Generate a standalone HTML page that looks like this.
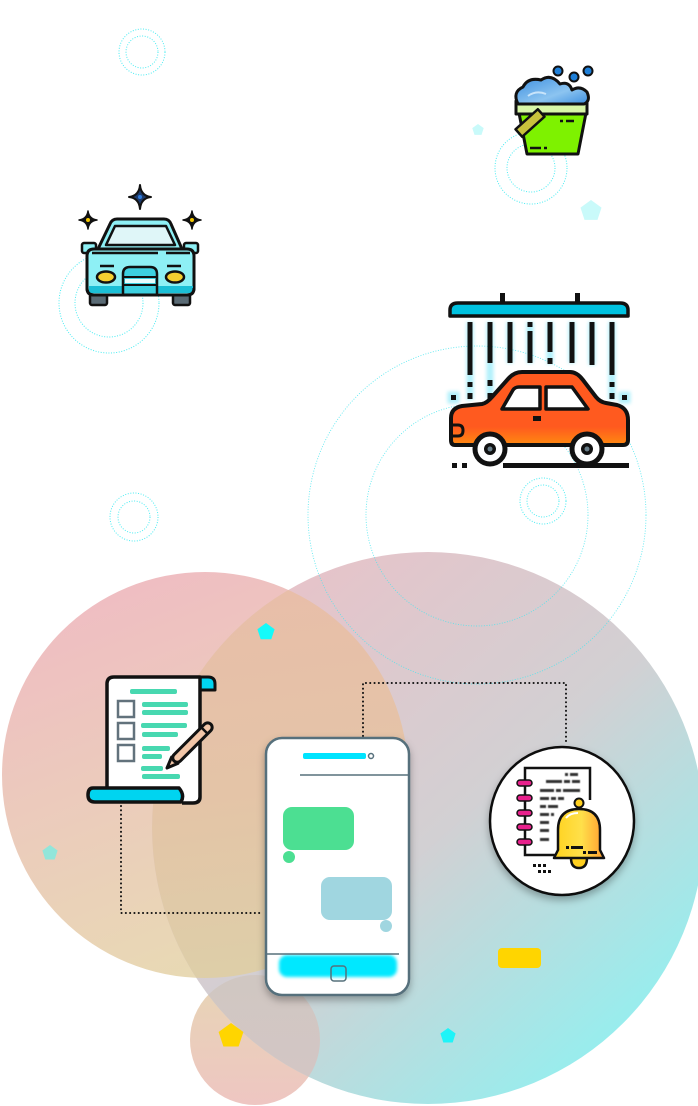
<!DOCTYPE html>
<html>
<head>
<meta charset="utf-8">
<style>
  html,body{margin:0;padding:0;background:#fff;}
  body{width:698px;height:1106px;overflow:hidden;font-family:"Liberation Sans",sans-serif;}
  svg{display:block;}
</style>
</head>
<body>
<svg width="698" height="1106" viewBox="0 0 698 1106" xmlns="http://www.w3.org/2000/svg">
  <defs>
    <linearGradient id="gL" gradientUnits="userSpaceOnUse" x1="100" y1="600" x2="250" y2="980">
      <stop offset="0" stop-color="#efbec2"/>
      <stop offset="0.5" stop-color="#ebcdbb"/>
      <stop offset="1" stop-color="#e8dbb3"/>
    </linearGradient>
    <linearGradient id="gR" gradientUnits="userSpaceOnUse" x1="250" y1="600" x2="650" y2="1050">
      <stop offset="0" stop-color="#e7c3c9"/>
      <stop offset="0.5" stop-color="#d2d0d3"/>
      <stop offset="1" stop-color="#90f1f1"/>
    </linearGradient>
    <linearGradient id="gO" gradientUnits="userSpaceOnUse" x1="250" y1="590" x2="300" y2="980">
      <stop offset="0" stop-color="#e8bea9"/>
      <stop offset="0.5" stop-color="#e4c4a7"/>
      <stop offset="1" stop-color="#ddcfa8"/>
    </linearGradient>
    <linearGradient id="gS" gradientUnits="userSpaceOnUse" x1="255" y1="975" x2="255" y2="1105">
      <stop offset="0" stop-color="#e7d5b5"/>
      <stop offset="1" stop-color="#eec6c2"/>
    </linearGradient>
    <linearGradient id="gSO" gradientUnits="userSpaceOnUse" x1="255" y1="975" x2="255" y2="1105">
      <stop offset="0" stop-color="#d0c7c2"/>
      <stop offset="1" stop-color="#d4c6c5"/>
    </linearGradient>
    <linearGradient id="foam" x1="0" y1="0" x2="1" y2="1">
      <stop offset="0" stop-color="#3d8fe0"/>
      <stop offset="0.6" stop-color="#8cc4f0"/>
      <stop offset="1" stop-color="#3d8fe0"/>
    </linearGradient>
    <linearGradient id="bell" x1="0" y1="0" x2="1" y2="0">
      <stop offset="0" stop-color="#ffd21e"/>
      <stop offset="0.55" stop-color="#ffe04a"/>
      <stop offset="1" stop-color="#ff9c30"/>
    </linearGradient>
    <linearGradient id="carBody" x1="0" y1="0" x2="0" y2="1">
      <stop offset="0" stop-color="#ff5a1f"/>
      <stop offset="0.75" stop-color="#ff5a1f"/>
      <stop offset="1" stop-color="#ff8a10"/>
    </linearGradient>
    <clipPath id="cR"><circle cx="428" cy="828" r="276"/></clipPath>
    <filter id="glow" x="-50%" y="-50%" width="200%" height="200%">
      <feGaussianBlur stdDeviation="1.8"/>
    </filter>
    <filter id="soft" x="-10%" y="-10%" width="120%" height="140%">
      <feGaussianBlur stdDeviation="1.5"/>
    </filter>
    <filter id="shadow" x="-20%" y="-20%" width="140%" height="140%">
      <feDropShadow dx="0" dy="4" stdDeviation="4" flood-color="#000" flood-opacity="0.3"/>
    </filter>
    <filter id="blurText"><feGaussianBlur stdDeviation="0.6"/></filter>
  </defs>

  <!-- background circles -->
  <circle cx="205" cy="775" r="203" fill="url(#gL)"/>
  <circle cx="255" cy="1040" r="65" fill="url(#gS)"/>
  <circle cx="428" cy="828" r="276" fill="url(#gR)"/>
  <g clip-path="url(#cR)">
    <circle cx="205" cy="775" r="203" fill="url(#gO)"/>
    <circle cx="255" cy="1040" r="65" fill="url(#gSO)"/>
  </g>

  <!-- dotted circles -->
  <g fill="none" stroke="#49ecf2" stroke-width="1" stroke-dasharray="1 1.6">
    <circle cx="142" cy="52" r="23"/>
    <circle cx="142" cy="52" r="16"/>
    <circle cx="109" cy="303" r="50"/>
    <circle cx="109" cy="303" r="34"/>
    <circle cx="134" cy="517" r="24"/>
    <circle cx="134" cy="517" r="16"/>
    <circle cx="531" cy="168" r="36"/>
    <circle cx="531" cy="168" r="24"/>
    <circle cx="543" cy="501" r="23"/>
    <circle cx="543" cy="501" r="16"/>
  </g>
  <g fill="none" stroke="#49e6ee" stroke-width="0.9" stroke-dasharray="1 1.6" opacity="0.85">
    <circle cx="477" cy="515" r="169"/>
    <circle cx="477" cy="515" r="111"/>
  </g>

  <!-- pentagons -->
  <polygon points="478,124 483.7,128.1 481.5,134.9 474.5,134.9 472.3,128.1" fill="#c9fafa"/>
  <polygon points="591,200 601.5,207.6 597.5,219.9 584.5,219.9 580.5,207.6" fill="#c9fafa"/>
  <polygon points="266,623 274.6,629.2 271.3,639.3 260.7,639.3 257.4,629.2" fill="#14fafa"/>
  <polygon points="50,845 57.6,850.5 54.7,859.5 45.3,859.5 42.4,850.5" fill="#92e6da"/>
  <polygon points="231,1023 243.4,1032 238.6,1046.5 223.4,1046.5 218.6,1032" fill="#ffd500"/>
  <polygon points="448,1028 455.6,1033.5 452.7,1042.5 443.3,1042.5 440.4,1033.5" fill="#1ef4f8"/>
  <rect x="498" y="948" width="43" height="20" rx="4" fill="#ffd500"/>

  <!-- connectors -->
  <g fill="none" stroke="#111" stroke-width="2" stroke-dasharray="0.1 4.2" stroke-linecap="round">
    <polyline points="121,806 121,913 262,913"/>
    <polyline points="363,736 363,683 566,683 566,745"/>
  </g>

  <!-- sparkling car -->
  <g stroke="#111" stroke-linejoin="round">
    <path d="M140,185 Q141,196 151,197 Q141,198 140,209 Q139,198 129,197 Q139,196 140,185Z" fill="#1c3a6a" stroke-width="2"/>
    <circle cx="140" cy="197" r="2" fill="#2e7bdc" stroke="none"/>
    <path d="M88,211 Q89,219 97,220 Q89,221 88,229 Q87,221 79,220 Q87,219 88,211Z" fill="#111" stroke-width="1.5"/>
    <circle cx="88" cy="220" r="2" fill="#f5c800" stroke="none"/>
    <path d="M192,211 Q193,219 201,220 Q193,221 192,229 Q191,221 183,220 Q191,219 192,211Z" fill="#111" stroke-width="1.5"/>
    <circle cx="192" cy="220" r="2" fill="#f5c800" stroke="none"/>

    <rect x="82" y="243" width="14" height="10" rx="2" fill="#8ef0f5" stroke-width="2.5"/>
    <rect x="184" y="243" width="14" height="10" rx="2" fill="#8ef0f5" stroke-width="2.5"/>
    <path d="M98,249 L110,224 Q112,219 117,219 L164,219 Q169,219 171,224 L182,249Z" fill="#8ef0f5" stroke-width="3"/>
    <path d="M106,245 L115,226 L166,226 L175,245Z" fill="#dff6f8" stroke-width="2.5"/>
    <rect x="90" y="294" width="17" height="11" rx="2" fill="#5a6b75" stroke-width="2.5"/>
    <rect x="173" y="294" width="17" height="11" rx="2" fill="#5a6b75" stroke-width="2.5"/>
    <path d="M87,256 Q87,249 94,249 L187,249 Q194,249 194,256 L194,288 Q194,295 187,295 L94,295 Q87,295 87,288Z" fill="#8ef0f5" stroke-width="3"/>
    <rect x="89" y="286" width="104" height="7" fill="#1bbfd6" stroke="none"/>
    <line x1="92" y1="253" x2="158" y2="253" stroke-width="2.5"/>
    <line x1="166" y1="253" x2="190" y2="253" stroke-width="2.5"/>
    <line x1="100" y1="266" x2="114" y2="266" stroke-width="2.5"/>
    <line x1="167" y1="266" x2="181" y2="266" stroke-width="2.5"/>
    <ellipse cx="106" cy="277" rx="9" ry="5.5" fill="#f5cf30" stroke-width="2.5"/>
    <ellipse cx="175" cy="277" rx="9" ry="5.5" fill="#f5cf30" stroke-width="2.5"/>
    <path d="M123,295 L123,274 Q123,267 130,267 L150,267 Q157,267 157,274 L157,295" fill="#3dd0e0" stroke-width="2.5"/>
    <rect x="125" y="279" width="30" height="4" fill="#e8fbfc" stroke="none"/>
    <line x1="124" y1="277" x2="156" y2="277" stroke-width="2"/>
    <line x1="124" y1="285" x2="156" y2="285" stroke-width="2"/>
    <path d="M87,288 Q87,295 94,295 L187,295 Q194,295 194,288" fill="none" stroke-width="3"/>
  </g>

  <!-- bucket -->
  <g stroke="#111" stroke-linejoin="round">
    <path d="M519,113 L586,113 L578,154 L527,154Z" fill="#7ef200" stroke-width="3"/>
    <rect x="516" y="101" width="71" height="13" fill="#d8f7a8" stroke-width="3"/>
    <path d="M518,104 Q512,92 523,87 Q528,77 541,80 Q551,73 560,84 Q569,81 572,90 Q580,85 587,92 Q591,101 584,104 Z" fill="url(#foam)" stroke-width="3"/>
    <path d="M528,96 Q536,90 546,94" fill="none" stroke="#c8e4fa" stroke-width="2"/>
    <circle cx="558" cy="71" r="4.5" fill="#1e7fd8" stroke-width="2"/>
    <circle cx="574" cy="77" r="4.5" fill="#1e7fd8" stroke-width="2"/>
    <circle cx="588" cy="71" r="4.5" fill="#1e7fd8" stroke-width="2"/>
    <rect x="-15" y="-5" width="30" height="10" transform="translate(530,123) rotate(-42)" fill="#c8c23c" stroke-width="2.5"/>
    <line x1="560" y1="121" x2="563" y2="121" stroke-width="2.5"/>
    <line x1="566" y1="121" x2="574" y2="121" stroke-width="2.5"/>
    <line x1="530" y1="148" x2="541" y2="148" stroke-width="2.5"/>
    <line x1="544" y1="148" x2="547" y2="148" stroke-width="2.5"/>
  </g>

  <!-- car wash -->
  <g>
    <g stroke="#7fe6f8" stroke-width="7" filter="url(#glow)" opacity="0.6">
      <line x1="470" y1="322" x2="470" y2="400"/>
      <line x1="490" y1="322" x2="490" y2="398"/>
      <line x1="510" y1="322" x2="510" y2="363"/>
      <line x1="530" y1="322" x2="530" y2="363"/>
      <line x1="550" y1="322" x2="550" y2="364"/>
      <line x1="572" y1="322" x2="572" y2="363"/>
      <line x1="592" y1="322" x2="592" y2="365"/>
      <line x1="612" y1="322" x2="612" y2="400"/>
      <rect x="451" y="395" width="5" height="5"/>
      <rect x="622" y="395" width="5" height="5"/>
    </g>
    <g fill="#111">
      <rect x="500" y="293" width="5" height="11"/>
      <rect x="575" y="293" width="5" height="11"/>
      <rect x="467.5" y="322" width="5" height="53"/>
      <rect x="467.5" y="382" width="5" height="5"/>
      <rect x="467.5" y="393" width="5" height="6"/>
      <rect x="487.5" y="322" width="5" height="41"/>
      <rect x="487.5" y="380" width="5" height="6"/>
      <rect x="487.5" y="393" width="5" height="6"/>
      <rect x="507.5" y="322" width="5" height="41"/>
      <rect x="527.5" y="322" width="5" height="5"/>
      <rect x="527.5" y="331" width="5" height="32"/>
      <rect x="547.5" y="322" width="5" height="30"/>
      <rect x="547.5" y="358" width="5" height="6"/>
      <rect x="569.5" y="322" width="5" height="41"/>
      <rect x="589.5" y="322" width="5" height="43"/>
      <rect x="609.5" y="322" width="5" height="53"/>
      <rect x="609.5" y="382" width="5" height="5"/>
      <rect x="609.5" y="393" width="5" height="6"/>
      <rect x="451" y="395" width="5" height="5"/>
      <rect x="622" y="395" width="5" height="5"/>
    </g>
    <path d="M450,316 L450,310 Q450,303 458,303 L620,303 Q628,303 628,310 L628,316Z" fill="#00c2e0" stroke="#111" stroke-width="3.5" stroke-linejoin="round"/>
    <path d="M455,445 Q451,445 451,440 L451,418 Q451,408 462,406 L482,404 Q487,403 492,397 L508,379 Q514,372 522,372 L570,372 Q577,372 583,380 L596,397 Q600,402 606,403 L617,405 Q628,408 628,420 L628,440 Q628,445 623,445Z" fill="url(#carBody)" stroke="#111" stroke-width="4" stroke-linejoin="round"/>
    <path d="M451,425 L458,425 Q463,425 463,430.5 Q463,436 458,436 L451,436" fill="none" stroke="#111" stroke-width="3"/>
    <path d="M502,409 L513,390 Q515,387 519,387 L540,387 L540,409Z" fill="#fff" stroke="#111" stroke-width="3.5" stroke-linejoin="round"/>
    <path d="M546,387 L572,387 L588,409 L546,409Z" fill="#fff" stroke="#111" stroke-width="3.5" stroke-linejoin="round"/>
    <rect x="533" y="416" width="8" height="5" fill="#111"/>
    <rect x="503" y="463" width="126" height="5" fill="#111"/>
    <rect x="452" y="463" width="5" height="5" fill="#111"/>
    <rect x="462" y="463" width="5" height="5" fill="#111"/>
    <circle cx="490" cy="449" r="15" fill="#fff" stroke="#111" stroke-width="5"/>
    <circle cx="490" cy="449" r="6" fill="#111"/>
    <circle cx="490" cy="449" r="2.5" fill="#6a7f8a"/>
    <circle cx="587" cy="449" r="15" fill="#fff" stroke="#111" stroke-width="5"/>
    <circle cx="587" cy="449" r="6" fill="#111"/>
    <circle cx="587" cy="449" r="2.5" fill="#6a7f8a"/>
  </g>

  <!-- document -->
  <g stroke="#111" stroke-linejoin="round">
    <path d="M200,677 L208,677 Q215,677 215,684 L215,690 L200,690Z" fill="#00d4f0" stroke-width="3"/>
    <path d="M107,797 L107,684 Q107,677 114,677 L200,677 L200,797 Q200,803 193,803 L182,803" fill="#fff" stroke-width="3.5"/>
    <path d="M93,788 L179,788 Q185,795 181,802 L95,802 Q88,802 88,795 Q88,788 93,788Z" fill="#00d4f0" stroke-width="3.5"/>
  </g>
  <g fill="#48d8b0">
    <rect x="130" y="689" width="47" height="5" rx="2"/>
    <rect x="142" y="702" width="46" height="5" rx="2"/>
    <rect x="142" y="710" width="46" height="5" rx="2"/>
    <rect x="141" y="723" width="46" height="5" rx="2"/>
    <rect x="142" y="732" width="36" height="5" rx="2"/>
    <rect x="142" y="746" width="28" height="5" rx="2"/>
    <rect x="142" y="754" width="20" height="5" rx="2"/>
    <rect x="141" y="766" width="22" height="5" rx="2"/>
    <rect x="142" y="774" width="38" height="5" rx="2"/>
  </g>
  <g fill="#fff" stroke="#62727c" stroke-width="2.5">
    <rect x="118" y="701" width="16" height="16"/>
    <rect x="118" y="723" width="16" height="16"/>
    <rect x="118" y="745" width="16" height="16"/>
  </g>
  <g transform="translate(167,768) rotate(-45)" stroke="#111" stroke-width="3" stroke-linejoin="round">
    <path d="M0,0 L11,-4.5 L11,4.5Z" fill="#f2c6a8"/>
    <rect x="10" y="-4.5" width="52" height="9" rx="4.5" fill="#f2c6a8"/>
    <line x1="53" y1="-4.5" x2="53" y2="4.5" stroke-width="2.5"/>
  </g>

  <!-- phone -->
  <rect x="266" y="738" width="143" height="257" rx="16" fill="#fff" stroke="#56707c" stroke-width="2.5" filter="url(#shadow)"/>
  <rect x="303" y="753" width="63" height="6" rx="2" fill="#00e4ff"/>
  <circle cx="371" cy="756" r="2.5" fill="none" stroke="#56707c" stroke-width="1.5"/>
  <line x1="300" y1="775" x2="408" y2="775" stroke="#56707c" stroke-width="1.5"/>
  <rect x="283" y="807" width="71" height="43" rx="9" fill="#4cdf92"/>
  <circle cx="289" cy="857" r="6" fill="#4cdf92"/>
  <rect x="321" y="877" width="71" height="43" rx="9" fill="#a0d6e0"/>
  <circle cx="386" cy="926" r="6" fill="#a0d6e0"/>
  <rect x="279" y="955" width="118" height="22" rx="8" fill="#00e8ff" filter="url(#soft)"/>
  <line x1="267" y1="954" x2="399" y2="954" stroke="#56707c" stroke-width="1.5"/>
  <rect x="331" y="966" width="15" height="15" rx="3" fill="none" stroke="#56707c" stroke-width="1.5"/>

  <!-- notification -->
  <ellipse cx="562" cy="821" rx="72" ry="74" fill="#fff" stroke="#111" stroke-width="2.5" filter="url(#shadow)"/>
  <g>
    <polyline points="590,800 590,768 525,768 525,855 556,855" fill="none" stroke="#111" stroke-width="2.5"/>
    <g fill="#333" filter="url(#blurText)">
      <rect x="565" y="773" width="3" height="3"/><rect x="570" y="773" width="8" height="3"/>
      <rect x="546" y="780" width="16" height="3"/><rect x="564" y="780" width="6" height="3"/><rect x="572" y="780" width="8" height="3"/>
      <rect x="540" y="789" width="14" height="3"/><rect x="556" y="789" width="5" height="3"/><rect x="563" y="789" width="17" height="3"/>
      <rect x="540" y="797" width="9" height="3"/><rect x="551" y="797" width="5" height="3"/><rect x="558" y="797" width="6" height="3"/>
      <rect x="540" y="805" width="6" height="3"/><rect x="548" y="805" width="10" height="3"/>
      <rect x="540" y="813" width="9" height="3"/><rect x="551" y="813" width="3" height="3"/>
      <rect x="540" y="821" width="9" height="3"/>
      <rect x="540" y="829" width="9" height="3"/>
      <rect x="540" y="838" width="9" height="3"/>
    </g>
    <g fill="#e8208c" stroke="#111" stroke-width="1.5">
      <rect x="517" y="780" width="15" height="6" rx="3"/>
      <rect x="517" y="795" width="15" height="6" rx="3"/>
      <rect x="517" y="810" width="15" height="6" rx="3"/>
      <rect x="517" y="824" width="15" height="6" rx="3"/>
      <rect x="517" y="839" width="15" height="6" rx="3"/>
    </g>
    <circle cx="579" cy="803" r="4.5" fill="#ffd020" stroke="#111" stroke-width="2"/>
    <path d="M571,858 Q571,868 579,868 Q587,868 587,858" fill="#ffd020" stroke="#111" stroke-width="2.5"/>
    <path d="M554,858 L558,850 L558,830 Q558,809 579,809 Q600,809 600,830 L600,850 L604,858Z" fill="url(#bell)" stroke="#111" stroke-width="2.5" stroke-linejoin="round"/>
    <path d="M566,818 Q570,813 578,813" fill="none" stroke="#fff" stroke-width="2"/>
    <g fill="#111">
      <rect x="566" y="846" width="3" height="3"/><rect x="571" y="846" width="12" height="3"/>
      <rect x="583" y="851" width="3" height="3"/><rect x="588" y="851" width="9" height="3"/>
      <rect x="533" y="864" width="3" height="3"/><rect x="538" y="864" width="3" height="3"/><rect x="543" y="864" width="3" height="3"/>
      <rect x="538" y="870" width="3" height="3"/><rect x="543" y="870" width="3" height="3"/><rect x="548" y="870" width="3" height="3"/>
    </g>
  </g>
</svg>
</body>
</html>
